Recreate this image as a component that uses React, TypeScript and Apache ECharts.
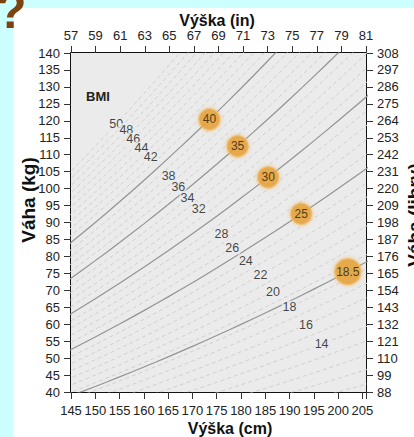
import React, { useEffect, useRef } from 'react';
import * as echarts from 'echarts';

// Axis ranges / ticks
const cmMin = 145;
const cmMax = 205.74;
const inMin = 57;
const inMax = 81;
const kgMin = 40;
const kgMax = 140;
const lbMin = 88;
const lbMax = 308;

// BMI iso-lines
const bmiDashed = [10, 11, 12, 13, 14, 15, 16, 17, 18, 19, 20, 21, 22, 23, 24, 26, 27, 28, 29, 31, 32, 33, 34, 36, 37, 38, 39, 41, 42, 43, 44, 45, 46, 47, 48, 49, 50];
const bmiMain = [18.5, 25, 30, 35, 40];
const bmiMainBadgeHeights = [202.0, 192.4, 185.6, 179.3, 173.5];
const bmiMainBadgeSizes = [26, 21, 21, 21, 21];

const bmiNumbers = [50, 48, 46, 44, 42, 38, 36, 34, 32, 28, 26, 24, 22, 20, 18, 16, 14];
const bmiNumberHeights = [154.3, 156.4, 157.8, 159.5, 161.4, 165.1, 167.1, 169.0, 171.3, 176.0, 178.2, 181.0, 184.0, 186.6, 190.0, 193.4, 196.6];

// sampling heights (cm) for drawing the curves
const sampleHeights = [140, 142.5, 145, 147.5, 150, 152.5, 155, 157.5, 160, 162.5, 165, 167.5, 170, 172.5, 175, 177.5, 180, 182.5, 185, 187.5, 190, 192.5, 195, 197.5, 200, 202.5, 205, 207.5, 210];

const FONT = "'Liberation Sans', Arial, sans-serif";

const weightFor = (bmi: number, h: number) => bmi * (h / 100) * (h / 100);

export default function App() {
  const ref = useRef<HTMLDivElement>(null);
  useEffect(() => {
    if (!ref.current) return;
    const chart = echarts.init(ref.current, undefined, { renderer: 'svg' });

    const series: any[] = [];
    bmiDashed.forEach((b) => {
      series.push({
        type: 'line',
        data: sampleHeights.map((h) => [h, weightFor(b, h)]),
        showSymbol: false,
        symbol: 'none',
        silent: true,
        clip: true,
        z: 2,
        lineStyle: { color: '#cfcfcf', width: 1, type: [4, 3] },
      });
    });
    bmiMain.forEach((b) => {
      series.push({
        type: 'line',
        data: sampleHeights.map((h) => [h, weightFor(b, h)]),
        showSymbol: false,
        symbol: 'none',
        silent: true,
        clip: true,
        z: 3,
        lineStyle: { color: '#939393', width: 1.2 },
      });
    });
    series.push({
      type: 'scatter',
      z: 4,
      symbolSize: 2,
      itemStyle: { color: 'rgba(0,0,0,0)' },
      data: bmiNumbers.map((b, i) => ({
        name: String(b),
        value: [bmiNumberHeights[i], weightFor(b, bmiNumberHeights[i])],
      })),
      label: {
        show: true,
        position: 'inside',
        formatter: (p: any) => p.name,
        color: '#161616',
        fontSize: 12.5,
        fontFamily: FONT,
        backgroundColor: '#ebebeb',
        padding: [0, 1],
      },
    });
    series.push({
      type: 'scatter',
      z: 5,
      data: bmiMain.map((b, i) => ({
        name: String(b),
        value: [bmiMainBadgeHeights[i], weightFor(b, bmiMainBadgeHeights[i])],
        symbolSize: bmiMainBadgeSizes[i],
      })),
      itemStyle: {
        color: '#e5a13b',
        borderColor: 'rgba(240,190,110,0.9)',
        borderWidth: 1.5,
        shadowColor: 'rgba(235,170,70,0.7)',
        shadowBlur: 4,
      },
      label: {
        show: true,
        position: 'inside',
        formatter: (p: any) => p.name,
        color: '#2a1c06',
        fontSize: 12,
        fontFamily: FONT,
      },
    });

    const axisLine = { show: true, lineStyle: { color: '#111', width: 2 } };
    const axisTick = { show: true, inside: false, length: 7, lineStyle: { color: '#333', width: 1 } };

    chart.setOption({
      animation: false,
      backgroundColor: '#ccffff',
      grid: {
        left: 71,
        right: 48,
        top: 53,
        bottom: 45,
        show: true,
        backgroundColor: '#ebebeb',
        borderWidth: 0,
        z: 1,
      },
      xAxis: [
        {
          type: 'value',
          position: 'bottom',
          min: cmMin,
          max: cmMax,
          interval: 5,
          axisLine,
          axisTick,
          axisLabel: {
            color: '#222',
            fontSize: 13,
            fontFamily: FONT,
            margin: 12,
            formatter: (v: number) => (Math.abs(v - Math.round(v)) < 1e-6 && Math.round(v) % 5 === 0 ? String(Math.round(v)) : ''),
          },
          splitLine: { show: true, lineStyle: { color: '#ffffff', width: 1 } },
        },
        {
          type: 'value',
          position: 'top',
          min: inMin,
          max: inMax,
          interval: 2,
          axisLine,
          axisTick,
          axisLabel: { color: '#222', fontSize: 13, fontFamily: FONT, margin: 11 },
          splitLine: { show: false },
        },
      ],
      yAxis: [
        {
          type: 'value',
          position: 'left',
          min: kgMin,
          max: kgMax,
          interval: 5,
          axisLine,
          axisTick,
          axisLabel: { color: '#222', fontSize: 13, fontFamily: FONT, margin: 11 },
          splitLine: { show: false },
        },
        {
          type: 'value',
          position: 'right',
          min: lbMin,
          max: lbMax,
          interval: 11,
          axisLine,
          axisTick,
          axisLabel: { color: '#222', fontSize: 13, fontFamily: FONT, margin: 11 },
          splitLine: { show: false },
        },
      ],
      graphic: [
        { type: 'rect', z: -10, shape: { x: 13, y: 8, width: 420, height: 440 }, style: { fill: '#ffffff' } },
        {
          type: 'text', z: 10, x: -4, y: 36,
          style: { text: '?', fill: '#7e420e', font: `bold 50px ${FONT}`, textAlign: 'left', textVerticalAlign: 'bottom' },
        },
        {
          type: 'text', z: 10, x: 217, y: 20,
          style: { text: 'Výška (in)', fill: '#111', font: `bold 16px ${FONT}`, textAlign: 'center', textVerticalAlign: 'middle' },
        },
        {
          type: 'text', z: 10, x: 230, y: 428,
          style: { text: 'Výška (cm)', fill: '#111', font: `bold 16px ${FONT}`, textAlign: 'center', textVerticalAlign: 'middle' },
        },
        {
          type: 'text', z: 10, x: 28, y: 200, rotation: Math.PI / 2,
          style: { text: 'Váha (kg)', fill: '#111', font: `bold 19px ${FONT}`, textAlign: 'center', textVerticalAlign: 'middle' },
        },
        {
          type: 'text', z: 10, x: 414, y: 215, rotation: Math.PI / 2,
          style: { text: 'Váha (libry)', fill: '#111', font: `bold 19px ${FONT}`, textAlign: 'center', textVerticalAlign: 'middle' },
        },
        {
          type: 'text', z: 10, x: 98, y: 96,
          style: { text: 'BMI', fill: '#222', font: `bold 13px ${FONT}`, textAlign: 'center', textVerticalAlign: 'middle' },
        },
      ],
      series,
    });
    return () => chart.dispose();
  }, []);
  return <div ref={ref} style={{ position: 'fixed', left: 0, top: 0, width: 414, height: 437 }} />;
}
